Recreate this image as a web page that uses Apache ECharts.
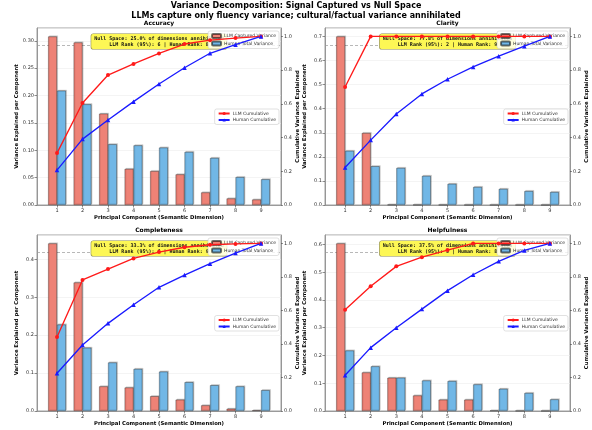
<!DOCTYPE html>
<html>
<head>
<meta charset="utf-8">
<script src="https://cdn.jsdelivr.net/npm/echarts@6/dist/echarts.min.js"></script>
<style>html,body{margin:0;padding:0;background:#fff;}#c{width:592px;height:430px;}</style>
</head>
<body>
<div id="c"></div>
<script>
// ---------------- data ----------------
const components = [1, 2, 3, 4, 5, 6, 7, 8, 9];
const panelTitles = ['Accuracy', 'Clarity', 'Completeness', 'Helpfulness'];

const accuracyLLM = [0.308, 0.297, 0.167, 0.066, 0.062, 0.056, 0.023, 0.012, 0.010];
const accuracyHuman = [0.209, 0.184, 0.111, 0.109, 0.105, 0.097, 0.086, 0.051, 0.047];
const accuracyLLMCum = [0.308, 0.605, 0.771, 0.837, 0.899, 0.955, 0.978, 0.990, 1.000];
const accuracyHumanCum = [0.207, 0.391, 0.504, 0.613, 0.718, 0.814, 0.900, 0.951, 1.000];

const clarityLLM = [0.700, 0.299, 0.0015, 0.001, 0.0008, 0.0005, 0.0004, 0.0003, 0.0002];
const clarityHuman = [0.225, 0.161, 0.154, 0.121, 0.088, 0.075, 0.067, 0.058, 0.054];
const clarityLLMCum = [0.700, 1.000, 1.000, 1.000, 1.000, 1.000, 1.000, 1.000, 1.000];
const clarityHumanCum = [0.222, 0.385, 0.540, 0.659, 0.746, 0.819, 0.883, 0.942, 1.000];

const completenessLLM = [0.442, 0.339, 0.065, 0.062, 0.039, 0.030, 0.015, 0.006, 0.002];
const completenessHuman = [0.228, 0.167, 0.128, 0.111, 0.104, 0.076, 0.068, 0.065, 0.055];
const completenessLLMCum = [0.441, 0.782, 0.847, 0.910, 0.948, 0.977, 0.992, 0.997, 1.000];
const completenessHumanCum = [0.225, 0.394, 0.523, 0.634, 0.738, 0.811, 0.879, 0.942, 1.000];

const helpfulnessLLM = [0.604, 0.139, 0.120, 0.056, 0.041, 0.041, 0.002, 0.001, 0.0006];
const helpfulnessHuman = [0.218, 0.161, 0.120, 0.110, 0.108, 0.096, 0.080, 0.065, 0.042];
const helpfulnessLLMCum = [0.604, 0.744, 0.863, 0.918, 0.960, 1.000, 1.000, 1.000, 1.000];
const helpfulnessHumanCum = [0.213, 0.378, 0.497, 0.608, 0.718, 0.813, 0.893, 0.958, 1.000];

const leftTickStep = [0.05, 0.1, 0.1, 0.1];
const leftTickDecimals = [2, 1, 1, 1];
const rightTicks = [0.0, 0.2, 0.4, 0.6, 0.8, 1.0];
const threshold95 = 0.95;

const nullSpacePct = ['25.0%', '77.8%', '33.3%', '37.5%'];
const llmRank = [6, 2, 6, 5];
const humanRank = [8, 9, 9, 8];

const mainTitle1 = 'Variance Decomposition: Signal Captured vs Null Space';
const mainTitle2 = 'LLMs capture only fluency variance; cultural/factual variance annihilated';
const xLabel = 'Principal Component (Semantic Dimension)';
const yLeftLabel = 'Variance Explained per Component';
const yRightLabel = 'Cumulative Variance Explained';
const seriesNames = ['LLM Captured Variance', 'Human Total Variance', 'LLM Cumulative', 'Human Cumulative'];

const llmBars = [accuracyLLM, clarityLLM, completenessLLM, helpfulnessLLM];
const humanBars = [accuracyHuman, clarityHuman, completenessHuman, helpfulnessHuman];
const llmCum = [accuracyLLMCum, clarityLLMCum, completenessLLMCum, helpfulnessLLMCum];
const humanCum = [accuracyHumanCum, clarityHumanCum, completenessHumanCum, helpfulnessHumanCum];

// ---------------- layout ----------------
const grids = [
  { left: 37, top: 28, width: 244, height: 177 },
  { left: 325, top: 28, width: 245, height: 177 },
  { left: 37, top: 235, width: 244, height: 176 },
  { left: 325, top: 235, width: 245, height: 176 }
];
const xMin = 0.215, xMax = 9.785, barFrac = 0.35;
const FONT = 'DejaVu Sans';

const chart = echarts.init(document.getElementById('c'), null, { renderer: 'canvas' });

const xAxes = [], yAxes = [], series = [], legends = [], graphics = [];

graphics.push({ type: 'text', z: 10, x: 296, y: 6, style: { text: mainTitle1, font: 'bold 8px ' + FONT, fill: '#000', align: 'center', verticalAlign: 'middle' } });
graphics.push({ type: 'text', z: 10, x: 296, y: 16, style: { text: mainTitle2, font: 'bold 8px ' + FONT, fill: '#000', align: 'center', verticalAlign: 'middle' } });

grids.forEach((g, i) => {
  const cx = g.left + g.width / 2;
  const cy = g.top + g.height / 2;
  const bottom = g.top + g.height;
  const right = g.left + g.width;
  const barW = barFrac * g.width / (xMax - xMin);
  const lMax = Math.max(...llmBars[i], ...humanBars[i]) * 1.05;
  const dec = leftTickDecimals[i];

  xAxes.push({
    type: 'value', gridIndex: i, min: xMin, max: xMax,
    axisLine: { show: true, lineStyle: { color: '#888', width: 0.8 } },
    axisTick: { show: true, length: 2.5, lineStyle: { color: '#444', width: 0.6 }, customValues: components },
    axisLabel: { fontSize: 5, color: '#333', fontFamily: FONT, margin: 3, customValues: components },
    splitLine: { show: false }
  });
  yAxes.push({
    type: 'value', gridIndex: i, min: 0, max: lMax, interval: leftTickStep[i], position: 'left',
    axisLine: { show: true, lineStyle: { color: '#888', width: 0.8 } },
    axisTick: { show: true, length: 2.5, lineStyle: { color: '#444', width: 0.6 } },
    axisLabel: { fontSize: 5, color: '#333', fontFamily: FONT, margin: 3, showMaxLabel: false,
      formatter: v => v.toFixed(dec) },
    splitLine: { show: true, lineStyle: { color: '#ececec', width: 0.6 } }
  });
  yAxes.push({
    type: 'value', gridIndex: i, min: 0, max: 1.05, interval: 0.2, position: 'right',
    axisLine: { show: true, lineStyle: { color: '#888', width: 0.8 } },
    axisTick: { show: true, length: 2, lineStyle: { color: '#444', width: 0.6 } },
    axisLabel: { fontSize: 5, color: '#333', fontFamily: FONT, margin: 3, showMaxLabel: false,
      formatter: v => v.toFixed(1) },
    splitLine: { show: false }
  });

  const barStyle = (c) => ({
    color: c, borderColor: 'rgba(0,0,0,0.55)', borderWidth: 0.6,
    shadowColor: 'rgba(0,0,0,0.22)', shadowOffsetX: 1, shadowOffsetY: -1, shadowBlur: 0
  });
  series.push({
    type: 'bar', name: seriesNames[0], xAxisIndex: i, yAxisIndex: 2 * i, z: 2,
    barWidth: barW, barGap: '0%',
    data: components.map((c, k) => [c, llmBars[i][k]]),
    itemStyle: barStyle('#EE8276'), emphasis: { disabled: true }
  });
  series.push({
    type: 'bar', name: seriesNames[1], xAxisIndex: i, yAxisIndex: 2 * i, z: 2,
    barWidth: barW, barGap: '0%',
    data: components.map((c, k) => [c, humanBars[i][k]]),
    itemStyle: barStyle('#71B7E6'), emphasis: { disabled: true }
  });
  // 95% threshold line
  series.push({
    type: 'line', name: 'threshold', xAxisIndex: i, yAxisIndex: 2 * i + 1, z: 2,
    data: [], silent: true,
    markLine: { silent: true, symbol: 'none', label: { show: false }, z: 2,
      lineStyle: { color: '#999', type: [3, 2], width: 0.7 },
      data: [{ yAxis: threshold95 }] }
  });
  series.push({
    type: 'line', name: seriesNames[2], xAxisIndex: i, yAxisIndex: 2 * i + 1, z: 5,
    data: components.map((c, k) => [c, llmCum[i][k]]),
    symbol: 'circle', symbolSize: 4,
    lineStyle: { color: '#ff1a1a', width: 1.35 }, itemStyle: { color: '#ff1a1a' },
    emphasis: { disabled: true }
  });
  series.push({
    type: 'line', name: seriesNames[3], xAxisIndex: i, yAxisIndex: 2 * i + 1, z: 5,
    data: components.map((c, k) => [c, humanCum[i][k]]),
    symbol: 'triangle', symbolSize: 4.5,
    lineStyle: { color: '#1a1aff', width: 1.35 }, itemStyle: { color: '#1a1aff' },
    emphasis: { disabled: true }
  });

  const legendRight = 592 - right + 2;
  legends.push({
    data: [seriesNames[0], seriesNames[1]], orient: 'vertical',
    right: legendRight, top: g.top + 3, z: 4,
    itemWidth: 9, itemHeight: 4, itemGap: 1.5, padding: [2, 3],
    backgroundColor: 'rgba(255,255,255,0.8)', borderColor: '#ccc', borderWidth: 0.6, borderRadius: 2,
    textStyle: { fontSize: 4.5, color: '#333', fontFamily: FONT, padding: [0, 0, 0, -2] },
    selectedMode: false
  });
  legends.push({
    data: [seriesNames[2], seriesNames[3]], orient: 'vertical',
    right: legendRight, top: cy - 7.5, z: 6,
    itemWidth: 11, itemHeight: 4, itemGap: 1.5, padding: [2, 3],
    backgroundColor: 'rgba(255,255,255,0.8)', borderColor: '#ccc', borderWidth: 0.6, borderRadius: 2,
    textStyle: { fontSize: 4.5, color: '#333', fontFamily: FONT, padding: [0, 0, 0, -2] },
    selectedMode: false
  });

  // annotation box
  graphics.push({
    type: 'text', z: 3, x: cx, y: g.top + 6,
    style: {
      text: 'Null Space: ' + nullSpacePct[i] + ' of dimensions annihilated\nLLM Rank (95%): ' + llmRank[i] + ' | Human Rank: ' + humanRank[i],
      font: 'bold 5px DejaVu Sans Mono', fill: '#111', align: 'center', verticalAlign: 'top',
      lineHeight: 6, backgroundColor: '#fdf755', borderColor: '#8c8a4a', borderWidth: 0.6,
      borderRadius: 2, padding: [1.5, 3]
    }
  });
  // panel title
  graphics.push({ type: 'text', z: 10, x: cx, y: g.top - 4.5,
    style: { text: panelTitles[i], font: 'bold 6px ' + FONT, fill: '#000', align: 'center', verticalAlign: 'middle' } });
  // x label
  graphics.push({ type: 'text', z: 10, x: cx, y: bottom + 13,
    style: { text: xLabel, font: 'bold 5.3px ' + FONT, fill: '#000', align: 'center', verticalAlign: 'middle' } });
  // left y label
  graphics.push({ type: 'text', z: 10, x: g.left - 20.5, y: cy, rotation: Math.PI / 2,
    style: { text: yLeftLabel, font: 'bold 5.3px ' + FONT, fill: '#000', align: 'center', verticalAlign: 'middle' } });
  // right y label
  graphics.push({ type: 'text', z: 10, x: right + 17, y: cy, rotation: Math.PI / 2,
    style: { text: yRightLabel, font: 'bold 5.3px ' + FONT, fill: '#000', align: 'center', verticalAlign: 'middle' } });
});

chart.setOption({
  animation: false,
  backgroundColor: '#fff',
  grid: grids.map(g => Object.assign({ show: true, borderColor: '#888', borderWidth: 0.8, backgroundColor: 'transparent' }, g)),
  xAxis: xAxes,
  yAxis: yAxes,
  legend: legends,
  series: series,
  graphic: graphics
});
</script>
</body>
</html>
